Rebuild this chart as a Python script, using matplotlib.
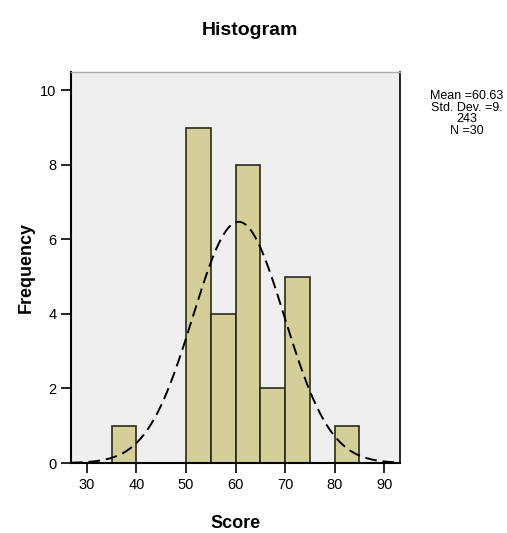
import numpy as np
import matplotlib
matplotlib.use("Agg")
import matplotlib.pyplot as plt

bin_edges = [35, 40, 45, 50, 55, 60, 65, 70, 75, 80, 85]
counts = [1, 0, 0, 9, 4, 8, 2, 5, 0, 1]
mean_val = 60.63
std_val = 9.243
n_val = 30
x_ticks = [30, 40, 50, 60, 70, 80, 90]
y_ticks = [0, 2, 4, 6, 8, 10]

plt.rcParams['font.family'] = ['Liberation Sans', 'DejaVu Sans']

fig = plt.figure(figsize=(5.07, 5.33), dpi=100)
ax = fig.add_axes([0.140, 0.1313, 0.649, 0.734])
ax.set_facecolor('#EFEFEF')

lefts = bin_edges[:-1]
widths = np.diff(bin_edges)
ax.bar(lefts, counts, width=widths, align='edge', color='#D4CF98',
       edgecolor='#2A2A1A', linewidth=1.2, zorder=2)

binw = bin_edges[1] - bin_edges[0]
xs = np.linspace(26.8, 93.2, 400)
ys = n_val * binw / (std_val * np.sqrt(2 * np.pi)) * np.exp(-0.5 * ((xs - mean_val) / std_val) ** 2)
ax.plot(xs, ys, color='black', linestyle=(0, (6, 3)), linewidth=1.4, zorder=3)

ax.set_xlim(26.8, 93.2)
ax.set_ylim(0, 10.5)
ax.set_xticks(x_ticks)
ax.set_yticks(y_ticks)
ax.tick_params(axis='both', direction='out', length=7, width=1.2, labelsize=10.5, colors='black')
for s in ['left', 'bottom']:
    ax.spines[s].set_linewidth(1.5)
    ax.spines[s].set_color('black')
ax.spines['top'].set_color('#AAAAAA')
ax.spines['top'].set_linewidth(1.0)
ax.spines['right'].set_color('black')
ax.spines['right'].set_linewidth(1.2)

ax.set_xlabel('Score', fontsize=13, fontweight='bold', labelpad=17)
ax.set_ylabel('Frequency', fontsize=13, fontweight='bold', labelpad=4)
fig.text(0.493, 0.942, 'Histogram', ha='center', va='center', fontsize=14, fontweight='bold')

fig.text(0.920, 0.787, f'Mean ={mean_val}\nStd. Dev. =9.\n243\nN ={n_val}',
         ha='center', va='center', fontsize=9, linespacing=0.95)

fig.savefig('out.png', dpi=100)
